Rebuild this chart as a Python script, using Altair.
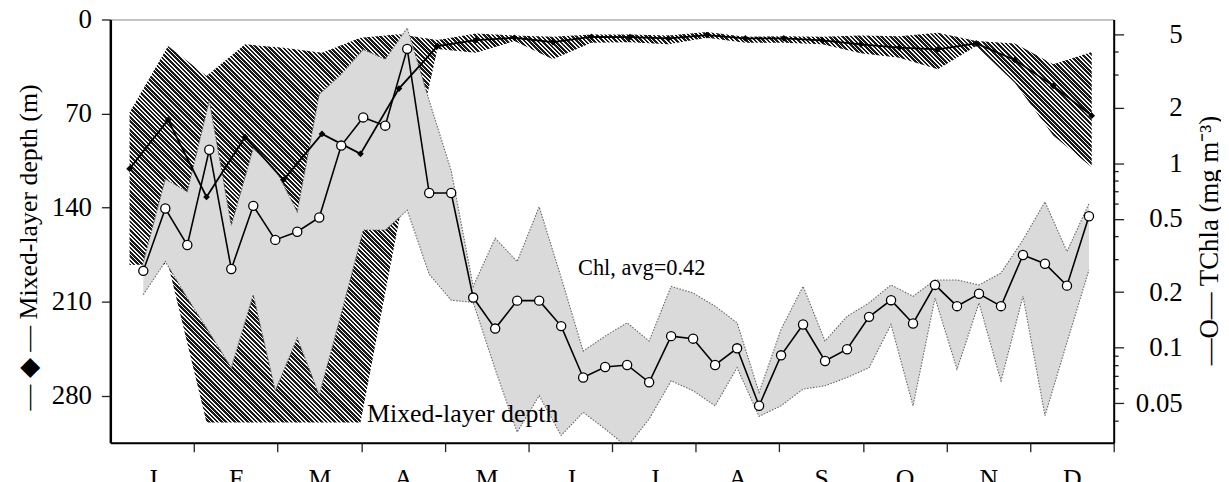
import math
import altair as alt
import pandas as pd

# ---------------- data ----------------
# 8-day composites of total chlorophyll a (mg m-3)
chl_day = [12, 20, 28, 36, 44, 52, 60, 68, 76, 84, 92, 100, 108, 116, 124, 132, 140, 148,
           156, 164, 172, 180, 188, 196, 204, 212, 220, 228, 236, 244, 252, 260, 268, 276,
           284, 292, 300, 308, 316, 324, 332, 340, 348, 356]
chl = [0.261, 0.568, 0.360, 1.181, 0.267, 0.587, 0.384, 0.425, 0.508, 1.245, 1.769, 1.596,
       4.16, 0.689, 0.689, 0.187, 0.127, 0.180, 0.180, 0.131, 0.069, 0.0787, 0.0807, 0.065,
       0.1156, 0.112, 0.0807, 0.0993, 0.0485, 0.091, 0.1336, 0.0848, 0.0982, 0.147, 0.181,
       0.1353, 0.219, 0.168, 0.196, 0.168, 0.318, 0.285, 0.217, 0.516]
chl_hi = [0.29, 0.82, 0.70, 2.18, 0.46, 1.2, 0.93, 0.545, 2.36, 3.03, 4.13, 3.65, 5.4, 2.18,
          0.91, 0.215, 0.392, 0.293, 0.58, 0.24, 0.096, 0.1156, 0.1365, 0.1087, 0.215, 0.198,
          0.168, 0.1365, 0.0573, 0.1257, 0.215, 0.1087, 0.148, 0.175, 0.219, 0.190, 0.233,
          0.233, 0.219, 0.254, 0.384, 0.617, 0.332, 0.604]
chl_lo = [0.194, 0.293, 0.186, 0.121, 0.078, 0.194, 0.0585, 0.113, 0.0555, 0.153, 0.434, 0.434,
          0.556, 0.25, 0.181, 0.176, 0.0765, 0.0349, 0.055, 0.0335, 0.0447, 0.0363, 0.029,
          0.0411, 0.0662, 0.0585, 0.0485, 0.078, 0.0425, 0.0485, 0.0597, 0.0622, 0.069, 0.078,
          0.1336, 0.0485, 0.186, 0.0765, 0.175, 0.0662, 0.190, 0.0429, 0.107, 0.264]

# 14-day mixed-layer depth (m)
mld_day = [7, 21, 35, 49, 63, 77, 91, 105, 119, 133, 147, 161, 175, 189, 203, 217, 231, 245,
           259, 273, 287, 301, 315, 329, 343, 357]
mld = [111.1, 74.8, 132.1, 87.5, 119.3, 85.2, 100.0, 51.4, 19.8, 15.3, 13.6, 16.8, 12.9, 13.1,
       14.1, 11.6, 14.1, 14.1, 15.6, 18.5, 21.0, 22.2, 17.8, 30.1, 49.4, 71.6]
mld_top = [69.2, 19.8, 42.0, 18.5, 21.0, 24.7, 13.6, 11.0, 15.3, 10.4, 11.9, 12.9, 11.1, 11.1,
           11.9, 9.4, 12.9, 12.4, 12.9, 11.9, 12.4, 9.9, 16.1, 17.8, 33.3, 24.2]
mld_bot = [182.7, 182.0, 300.0, 300.0, 300.0, 300.0, 300.0, 150.0, 22.0, 24.7, 16.1, 29.6, 17.3,
           17.0, 18.5, 13.6, 17.3, 17.3, 18.5, 25.2, 28.4, 37.0, 19.8, 47.0, 86.4, 109.9]

month_letters = ["J", "F", "M", "A", "M", "J", "J", "A", "S", "O", "N", "D"]
depth_ticks = [0, 70, 140, 210, 280]
chl_ticks = [0.05, 0.1, 0.2, 0.5, 1, 2, 5]
chl_minor = [4, 3, 0.9, 0.8, 0.7, 0.6, 0.4, 0.3, 0.09, 0.08, 0.07, 0.06, 0.04]

chl_df = pd.DataFrame({"day": chl_day, "chl": chl, "hi": chl_hi, "lo": chl_lo})
mld_df = pd.DataFrame({"day": mld_day, "mld": mld, "top": mld_top, "bot": mld_bot})
minor_df = pd.DataFrame({"v": chl_minor})
lab_chl = pd.DataFrame({"day": [193.3], "v": [0.2484], "t": ["Chl, avg=0.42"]})
lab_mld = pd.DataFrame({"day": [128.2], "v": [299.8], "t": ["Mixed-layer depth"]})

# ---------------- layout ----------------
W, H = 1010, 426
FONT = "Liberation Serif"
DAYS = 365.0
DEPTH_MAX = 315.0

x_scale = alt.Scale(domain=[0, DAYS], nice=False, zero=False)
depth_scale = alt.Scale(domain=[0, DEPTH_MAX], reverse=True, nice=False, zero=False)
chl_scale = alt.Scale(type="log", domain=[0.0306, 6.0], nice=False)

month_edges = [round(DAYS / 12 * k, 4) for k in range(1, 13)]
letters_js = "[" + ",".join("'%s'" % m for m in month_letters) + "]"
x_axis = alt.Axis(values=month_edges, title=None, grid=False,
                  labelExpr=letters_js + "[round(datum.value*12/365)-1]",
                  tickSize=9, tickWidth=1.3, tickColor="#222222",
                  domainColor="black", domainWidth=2,
                  labelFont=FONT, labelFontSize=26, labelColor="black",
                  labelPadding=14, labelBaseline="top", labelAlign="center",
                  labelOffset=-W / 24, labelFlush=False, labelOverlap=False, zindex=1)
X = alt.X("day:Q", scale=x_scale, axis=x_axis)

left_axis = alt.Axis(orient="left", values=depth_ticks, grid=False,
                     title="— ◆ — Mixed-layer depth (m)",
                     tickSize=9, tickWidth=1.3, tickColor="#222222",
                     domainColor="black", domainWidth=2.5,
                     labelFont=FONT, labelFontSize=27, labelColor="black", labelPadding=10,
                     labelFlush=False, labelOverlap=False,
                     titleFont=FONT, titleFontSize=26, titleFontWeight="normal",
                     titleColor="black", titleAngle=270, titleAlign="center",
                     titleBaseline="middle", titleX=-82, titleY=229, zindex=1)
right_axis = alt.Axis(orient="right", values=chl_ticks, format="~g", grid=False,
                      title="—O—  TChla (mg m⁻³)",
                      tickSize=10, tickWidth=1.3, tickColor="#222222",
                      domainColor="black", domainWidth=2,
                      labelFont=FONT, labelFontSize=27, labelColor="black",
                      labelAlign="right", labelPadding=59,
                      labelFlush=False, labelOverlap=False,
                      titleFont=FONT, titleFontSize=27, titleFontWeight="normal",
                      titleColor="black", titleAngle=270, titleAlign="center",
                      titleBaseline="middle", titleX=96, titleY=222, zindex=1)

# ---------------- hatch fill (diagonal stripes via a striped gradient) ----------------
bw = (mld_day[-1] - mld_day[0]) / DAYS * W
bh = (max(mld_bot) - min(mld_top)) / DEPTH_MAX * H
r = bh / bw
k = (1 + r) / (1 + r * r)
L = bw * k * (1 + r * r) / math.sqrt(2)
period = 3.1
dark = 0.6
n = int(L / period) + 1
stops = []
for i in range(n):
    a = round(min(1.0, i * period / L), 5)
    b = round(min(1.0, (i + dark) * period / L), 5)
    c = round(min(1.0, (i + 1) * period / L), 5)
    stops += [alt.GradientStop(offset=a, color="#1a1a1a"),
              alt.GradientStop(offset=b, color="#1a1a1a"),
              alt.GradientStop(offset=b, color="#f4f4f4"),
              alt.GradientStop(offset=c, color="#f4f4f4")]
hatch = alt.LinearGradient(gradient="linear", stops=stops,
                           x1=0, y1=1, x2=round(k, 5), y2=round(1 - k * r, 5))

# ---------------- layers ----------------
mld_band = alt.Chart(mld_df).mark_area(fill=hatch, clip=True).encode(
    x=X, y=alt.Y("top:Q", scale=depth_scale, axis=left_axis), y2="bot:Q")

chl_band = alt.Chart(chl_df).mark_area(color="#dadada", clip=True).encode(
    x=X, y=alt.Y("hi:Q", scale=chl_scale, axis=right_axis), y2="lo:Q")

chl_edge_hi = alt.Chart(chl_df).mark_line(color="#666666", strokeWidth=1.1,
                                          strokeDash=[1.5, 1.5], clip=True).encode(
    x=X, y=alt.Y("hi:Q", scale=chl_scale, axis=None))
chl_edge_lo = alt.Chart(chl_df).mark_line(color="#666666", strokeWidth=1.1,
                                          strokeDash=[1.5, 1.5], clip=True).encode(
    x=X, y=alt.Y("lo:Q", scale=chl_scale, axis=None))

mld_line = alt.Chart(mld_df).mark_line(color="black", strokeWidth=1.8).encode(
    x=X, y=alt.Y("mld:Q", scale=depth_scale, axis=None))
mld_pts = alt.Chart(mld_df).mark_point(shape="diamond", filled=True, color="black",
                                       size=45, opacity=1).encode(
    x=X, y=alt.Y("mld:Q", scale=depth_scale, axis=None))

chl_line = alt.Chart(chl_df).mark_line(color="black", strokeWidth=1.6).encode(
    x=X, y=alt.Y("chl:Q", scale=chl_scale, axis=None))
chl_pts = alt.Chart(chl_df).mark_point(shape="circle", filled=True, fill="white",
                                       stroke="black", strokeWidth=1.3, size=85,
                                       opacity=1).encode(
    x=X, y=alt.Y("chl:Q", scale=chl_scale, axis=None))

minor_ticks = alt.Chart(minor_df).mark_rule(color="#222222", strokeWidth=1.3).encode(
    x=alt.value(W), x2=alt.value(W + 5),
    y=alt.Y("v:Q", scale=chl_scale, axis=None))

txt_chl = alt.Chart(lab_chl).mark_text(font=FONT, fontSize=22.5, color="black",
                                       align="center", baseline="alphabetic").encode(
    x=X, y=alt.Y("v:Q", scale=chl_scale, axis=None), text="t:N")
txt_mld = alt.Chart(lab_mld).mark_text(font=FONT, fontSize=26, color="black",
                                       align="center", baseline="alphabetic").encode(
    x=X, y=alt.Y("v:Q", scale=depth_scale, axis=None), text="t:N")

chart = alt.layer(
    mld_band, chl_band, chl_edge_hi, chl_edge_lo, mld_line, mld_pts,
    chl_line, chl_pts, minor_ticks, txt_chl, txt_mld
).resolve_scale(y="independent").properties(
    width=W, height=H,
    autosize=alt.AutoSizeParams(type="none"),
    padding={"left": 103, "top": 10, "right": 108, "bottom": 38},
).configure(font=FONT).configure_view(stroke="#888888", strokeWidth=1)

chart.save("out.html", embed_options={"renderer": "svg", "actions": False})
